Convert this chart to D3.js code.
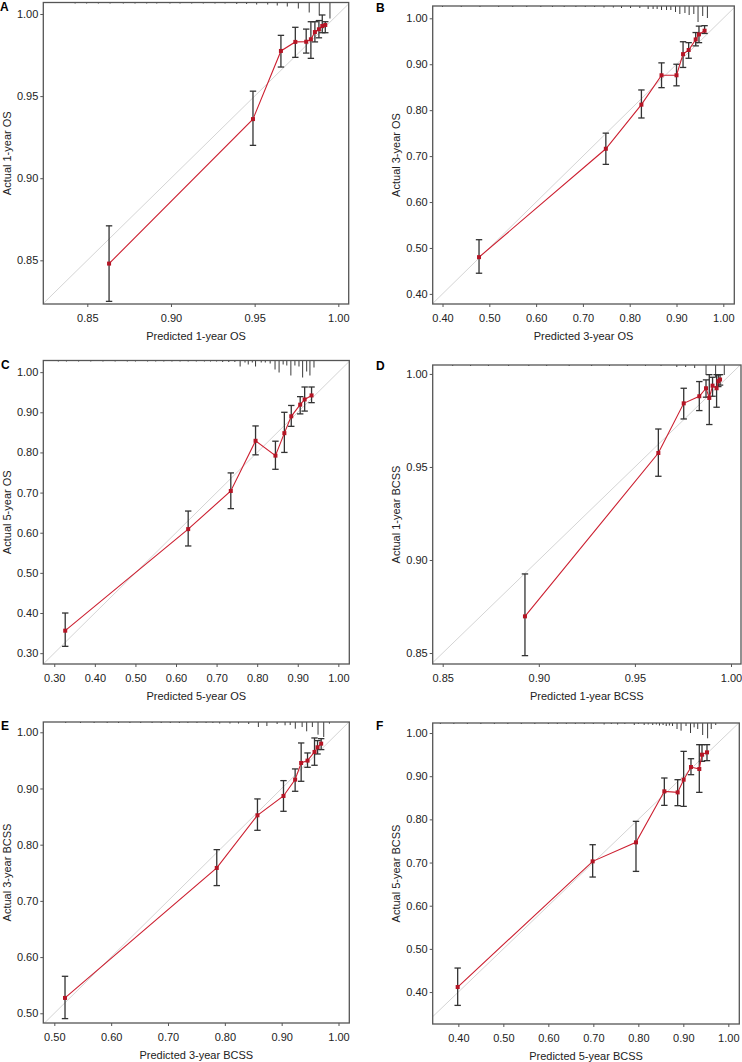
<!DOCTYPE html>
<html>
<head>
<meta charset="utf-8">
<script src="https://cdn.jsdelivr.net/npm/d3@7/dist/d3.min.js"></script>
<style>
  html, body { margin: 0; padding: 0; background: #fff; }
  svg { display: block; }
  text { font-family: "Liberation Sans", Arial, sans-serif; }
</style>
</head>
<body>
<svg id="chart" width="742" height="1062"></svg>
<script>
// ---------------- DATA ----------------
const panelLetters = ["A", "B", "C", "D", "E", "F"];
const xTitles = ["Predicted 1-year OS", "Predicted 3-year OS", "Predicted 5-year OS",
                 "Predicted 1-year BCSS", "Predicted 3-year BCSS", "Predicted 5-year BCSS"];
const yTitles = ["Actual 1-year OS", "Actual 3-year OS", "Actual 5-year OS",
                 "Actual 1-year BCSS", "Actual 3-year BCSS", "Actual 5-year BCSS"];

const ticksA = [0.85, 0.90, 0.95, 1.00];
const ticksB = [0.40, 0.50, 0.60, 0.70, 0.80, 0.90, 1.00];
const ticksC = [0.30, 0.40, 0.50, 0.60, 0.70, 0.80, 0.90, 1.00];
const ticksD = [0.85, 0.90, 0.95, 1.00];
const ticksE = [0.50, 0.60, 0.70, 0.80, 0.90, 1.00];
const ticksF = [0.40, 0.50, 0.60, 0.70, 0.80, 0.90, 1.00];

// Panel A: 1-year OS
const predA = [0.863, 0.949, 0.9657, 0.9743, 0.9808, 0.9836, 0.986, 0.9884, 0.9904, 0.9922];
const obsA  = [0.848, 0.936, 0.9775, 0.983, 0.9831, 0.9846, 0.989, 0.9907, 0.9927, 0.9933];
const loA   = [0.825, 0.920, 0.9677, 0.9736, 0.9762, 0.973, 0.983, 0.9855, 0.9886, 0.9886];
const hiA   = [0.871, 0.953, 0.987, 0.9919, 0.9908, 0.9953, 0.9953, 0.996, 0.9994, 0.9953];
const rugXA = [0.8427, 0.8496, 0.8566, 0.8636, 0.8715, 0.8785, 0.8855, 0.8915, 0.8994, 0.9054, 0.9124, 0.9193,
               0.9263, 0.9323, 0.9393, 0.9452, 0.9512, 0.9578, 0.9635, 0.9695, 0.9761, 0.9826, 0.9886, 0.995];
const rugFA = [1, 1, 1, 1, 1, 1, 1, 1, 1, 1, 1, 1, 1, 1, 1.5, 1.5, 2, 2, 3, 4, 6, 10, 13, 16];

// Panel B: 3-year OS
const predB = [0.478, 0.749, 0.825, 0.868, 0.900, 0.914, 0.926, 0.941, 0.948, 0.960];
const obsB  = [0.480, 0.716, 0.812, 0.876, 0.876, 0.922, 0.931, 0.954, 0.965, 0.973];
const loB   = [0.445, 0.682, 0.783, 0.849, 0.853, 0.893, 0.913, 0.940, 0.947, 0.967];
const hiB   = [0.518, 0.750, 0.844, 0.903, 0.900, 0.949, 0.947, 0.969, 0.983, 0.984];
const rugXB = [0.40, 0.44, 0.48, 0.52, 0.55, 0.58, 0.61, 0.635, 0.66, 0.685, 0.705, 0.725, 0.745, 0.765,
               0.7825, 0.8018, 0.8216, 0.8394, 0.85, 0.8586, 0.868, 0.8787, 0.8879, 0.8979, 0.9071, 0.918,
               0.927, 0.937, 0.946, 0.956, 0.966];
const rugFB = [1, 1, 1, 1, 1, 1, 1, 1, 1, 1, 1, 1, 1.5, 1.5, 2, 2, 2, 3, 3, 3, 4, 4, 4, 6, 8, 7, 9, 8, 16, 10, 12];

// Panel C: 5-year OS
const predC = [0.327, 0.630, 0.735, 0.796, 0.845, 0.867, 0.884, 0.906, 0.917, 0.934];
const obsC  = [0.356, 0.609, 0.704, 0.829, 0.792, 0.848, 0.890, 0.919, 0.932, 0.942];
const loC   = [0.317, 0.567, 0.660, 0.794, 0.758, 0.800, 0.865, 0.896, 0.903, 0.924];
const hiC   = [0.400, 0.654, 0.749, 0.866, 0.828, 0.900, 0.917, 0.939, 0.963, 0.963];
const rugXC = [0.31, 0.33, 0.36, 0.39, 0.42, 0.45, 0.48, 0.50, 0.53, 0.55, 0.57, 0.59, 0.61, 0.63, 0.65,
               0.67, 0.685, 0.70, 0.715, 0.73, 0.745, 0.758, 0.77, 0.778, 0.788, 0.796, 0.81, 0.82, 0.832,
               0.844, 0.854, 0.864, 0.873, 0.883, 0.893, 0.903, 0.912, 0.922, 0.930, 0.940];
const rugFC = [1, 1, 1, 1, 1, 1, 1, 1, 1, 1, 1, 1, 1, 1, 1, 1, 1, 1, 1.5, 1.5, 1.5, 6, 2, 4, 2, 6, 2, 2, 3,
               9, 12, 4, 5, 15, 5, 6, 17, 11, 15, 7];

// Panel D: 1-year BCSS
const predD = [0.8928, 0.9622, 0.9754, 0.9835, 0.987, 0.9887, 0.9904, 0.9925, 0.9934, 0.9943];
const obsD  = [0.8697, 0.9575, 0.9842, 0.988, 0.9923, 0.9871, 0.9937, 0.9923, 0.9961, 0.997];
const loD   = [0.8486, 0.945, 0.9758, 0.9803, 0.9875, 0.9728, 0.988, 0.9821, 0.9932, 0.994];
const hiD   = [0.8925, 0.9704, 0.9923, 0.9959, 0.9968, 0.9996, 0.9982, 0.9996, 0.9996, 0.9996];
const rugXD = [0.8552, 0.8645, 0.8738, 0.8843, 0.8948, 0.9041, 0.9158, 0.9275, 0.9368, 0.9461, 0.9555,
               0.9636, 0.9718, 0.9764, 0.9811, 0.987, 0.992, 0.9965];
const rugFD = [1, 1, 1, 1, 1, 1, 1, 1, 1, 1, 1, 1, 2, 2, 3, 10, 12, 10];

// Panel E: 3-year BCSS
const predE = [0.5188, 0.7858, 0.8574, 0.9032, 0.9237, 0.9343, 0.9455, 0.9578, 0.9631, 0.9695];
const obsE  = [0.5273, 0.7586, 0.8523, 0.8867, 0.9158, 0.9454, 0.9496, 0.965, 0.9733, 0.9798];
const loE   = [0.4905, 0.7272, 0.8256, 0.8594, 0.895, 0.9128, 0.9377, 0.9413, 0.9614, 0.9692];
const hiE   = [0.5658, 0.7912, 0.8814, 0.914, 0.9348, 0.981, 0.9632, 0.9899, 0.9852, 0.9887];
const rugXE = [0.52, 0.546, 0.57, 0.593, 0.613, 0.633, 0.652, 0.672, 0.688, 0.704, 0.72, 0.735, 0.751, 0.767,
               0.779, 0.791, 0.809, 0.824, 0.842, 0.859, 0.874, 0.892, 0.906, 0.915, 0.924, 0.936, 0.944,
               0.954, 0.964, 0.974, 0.984];
const rugFE = [1, 1, 1, 1, 1, 1, 1, 1, 1, 1, 1, 1, 1, 1, 1, 1.5, 1.5, 1.5, 2, 5, 4, 2, 3.3, 3, 6.7, 5, 9.3,
               5, 12.7, 15, 1.7];

// Panel F: 5-year BCSS
const predF = [0.3985, 0.6985, 0.7948, 0.8578, 0.8874, 0.9007, 0.917, 0.9355, 0.9415, 0.9526];
const obsF  = [0.4116, 0.7027, 0.7467, 0.8649, 0.8625, 0.8919, 0.9212, 0.9166, 0.9498, 0.9552];
const loF   = [0.3691, 0.6664, 0.6795, 0.8324, 0.8317, 0.8301, 0.9035, 0.8625, 0.9344, 0.936];
const hiF   = [0.4556, 0.7413, 0.7954, 0.8958, 0.8919, 0.9575, 0.9405, 0.973, 0.973, 0.973];
const rugXF = [0.36, 0.39, 0.42, 0.45, 0.48, 0.51, 0.54, 0.57, 0.60, 0.62, 0.64, 0.66, 0.68, 0.70, 0.724,
               0.74, 0.754, 0.77, 0.791, 0.80, 0.813, 0.822, 0.832, 0.84, 0.847, 0.855, 0.862, 0.869, 0.876,
               0.886, 0.895, 0.906, 0.916, 0.924, 0.932, 0.943, 0.954, 0.962, 0.972];
const rugFF = [1, 1, 1, 1, 1, 1, 1, 1, 1, 1, 1, 1, 1, 1, 1.5, 1, 1.5, 1, 2, 1, 2, 1.5, 2, 1.5, 2.5, 2, 3,
               2.5, 3, 6, 7.7, 3, 10, 4.3, 6, 12, 15.3, 6, 2];

// ---------------- LAYOUT ----------------
const panels = [
  { box: [43.3, 2.5, 348.7, 304], xd: [0.8237, 1.0062], yd: [0.8234, 1.0070], ticks: ticksA,
    pred: predA, obs: obsA, lo: loA, hi: hiA, rx: rugXA, rf: rugFA, letterPos: [0, 11] },
  { box: [432.7, 6, 734.3, 304], xd: [0.379, 1.0235], yd: [0.378, 1.0268], ticks: ticksB,
    pred: predB, obs: obsB, lo: loB, hi: hiB, rx: rugXB, rf: rugFB, letterPos: [376, 11.5] },
  { box: [43.3, 360.5, 349.3, 664], xd: [0.273, 1.027], yd: [0.273, 1.029], ticks: ticksC,
    pred: predC, obs: obsC, lo: loC, hi: hiC, rx: rugXC, rf: rugFC, letterPos: [1, 369] },
  { box: [432.7, 365, 741, 664], xd: [0.8448, 1.0052], yd: [0.8441, 1.0048], ticks: ticksD,
    pred: predD, obs: obsD, lo: loD, hi: hiD, rx: rugXD, rf: rugFD, letterPos: [376, 370] },
  { box: [43.3, 722, 349.3, 1023], xd: [0.4806, 1.019], yd: [0.4827, 1.0183], ticks: ticksE,
    pred: predE, obs: obsE, lo: loE, hi: hiE, rx: rugXE, rf: rugFE, letterPos: [1, 730] },
  { box: [432.7, 723, 739.3, 1024], xd: [0.343, 1.0244], yd: [0.326, 1.0232], ticks: ticksF,
    pred: predF, obs: obsF, lo: loF, hi: hiF, rx: rugXF, rf: rugFF, letterPos: [376, 730] }
];

const svg = d3.select("#chart");
const fmt = d3.format(".2f");
const RED = "#cc1f30";
const BAR = "#333333";
const BOX = "#555555";

panels.forEach((p, i) => {
  const [L, T, R, B] = p.box;
  const x = d3.scaleLinear().domain(p.xd).range([L, R]);
  const y = d3.scaleLinear().domain(p.yd).range([B, T]);
  const g = svg.append("g");
  const clipId = "clip" + i;
  svg.append("clipPath").attr("id", clipId)
    .append("rect").attr("x", L).attr("y", T).attr("width", R - L).attr("height", B - T);

  // diagonal reference line
  g.append("line")
    .attr("clip-path", `url(#${clipId})`)
    .attr("x1", x(p.xd[0])).attr("y1", y(p.xd[0]))
    .attr("x2", x(p.xd[1])).attr("y2", y(p.xd[1]))
    .attr("stroke", "#d4d4d4").attr("stroke-width", 1);

  // rug (distribution of predictions)
  const rugLen = d3.scaleLinear().domain([0, 1]).range([0, 1]);
  g.append("g").selectAll("line").data(p.rx).join("line")
    .attr("x1", d => x(d)).attr("x2", d => x(d))
    .attr("y1", T).attr("y2", (d, j) => T + rugLen(p.rf[j]))
    .attr("stroke", "#3a3a3a").attr("stroke-width", 1);

  // error bars
  const idx = d3.range(p.pred.length);
  const cap = 3.2;
  const eb = g.append("g").attr("stroke", BAR).attr("stroke-width", 1.3).attr("fill", "none");
  eb.selectAll("line.v").data(idx).join("line").attr("class", "v")
    .attr("x1", j => x(p.pred[j])).attr("x2", j => x(p.pred[j]))
    .attr("y1", j => y(p.lo[j])).attr("y2", j => y(p.hi[j]));
  eb.selectAll("line.t").data(idx).join("line").attr("class", "t")
    .attr("x1", j => x(p.pred[j]) - cap).attr("x2", j => x(p.pred[j]) + cap)
    .attr("y1", j => y(p.hi[j])).attr("y2", j => y(p.hi[j]));
  eb.selectAll("line.b").data(idx).join("line").attr("class", "b")
    .attr("x1", j => x(p.pred[j]) - cap).attr("x2", j => x(p.pred[j]) + cap)
    .attr("y1", j => y(p.lo[j])).attr("y2", j => y(p.lo[j]));

  // calibration line
  const line = d3.line().x(j => x(p.pred[j])).y(j => y(p.obs[j]));
  g.append("path").datum(idx).attr("d", line)
    .attr("fill", "none").attr("stroke", RED).attr("stroke-width", 1.1);

  // points
  g.append("g").selectAll("rect").data(idx).join("rect")
    .attr("x", j => x(p.pred[j]) - 2).attr("y", j => y(p.obs[j]) - 2)
    .attr("width", 4).attr("height", 4)
    .attr("fill", "#b51525");

  // box
  g.append("rect").attr("x", L).attr("y", T).attr("width", R - L).attr("height", B - T)
    .attr("fill", "none").attr("stroke", BOX).attr("stroke-width", 1.3);

  // axes
  const xAxis = d3.axisBottom(x).tickValues(p.ticks).tickFormat(fmt).tickSize(3).tickPadding(7);
  const yAxis = d3.axisLeft(y).tickValues(p.ticks).tickFormat(fmt).tickSize(3).tickPadding(2);
  const gx = g.append("g").attr("transform", `translate(0,${B})`).call(xAxis);
  const gy = g.append("g").attr("transform", `translate(${L},0)`).call(yAxis);
  [gx, gy].forEach(a => {
    a.select(".domain").remove();
    a.selectAll(".tick line").attr("stroke", BOX).attr("stroke-width", 1);
    a.selectAll(".tick text").attr("fill", "#222").style("font-size", "11px")
      .style("font-family", "'Liberation Sans', Arial, sans-serif");
  });

  // axis titles
  g.append("text")
    .attr("x", (L + R) / 2).attr("y", B + 36)
    .attr("text-anchor", "middle").attr("fill", "#222")
    .style("font-size", "11px").text(xTitles[i]);
  g.append("text")
    .attr("transform", `translate(${L - 36.5},${(T + B) / 2}) rotate(-90)`)
    .attr("text-anchor", "middle").attr("dominant-baseline", "central").attr("fill", "#222")
    .style("font-size", "11px").text(yTitles[i]);

  // panel letter
  g.append("text")
    .attr("x", p.letterPos[0]).attr("y", p.letterPos[1])
    .attr("fill", "#000").style("font-size", "12px").style("font-weight", "bold")
    .text(panelLetters[i]);
});
</script>
</body>
</html>
